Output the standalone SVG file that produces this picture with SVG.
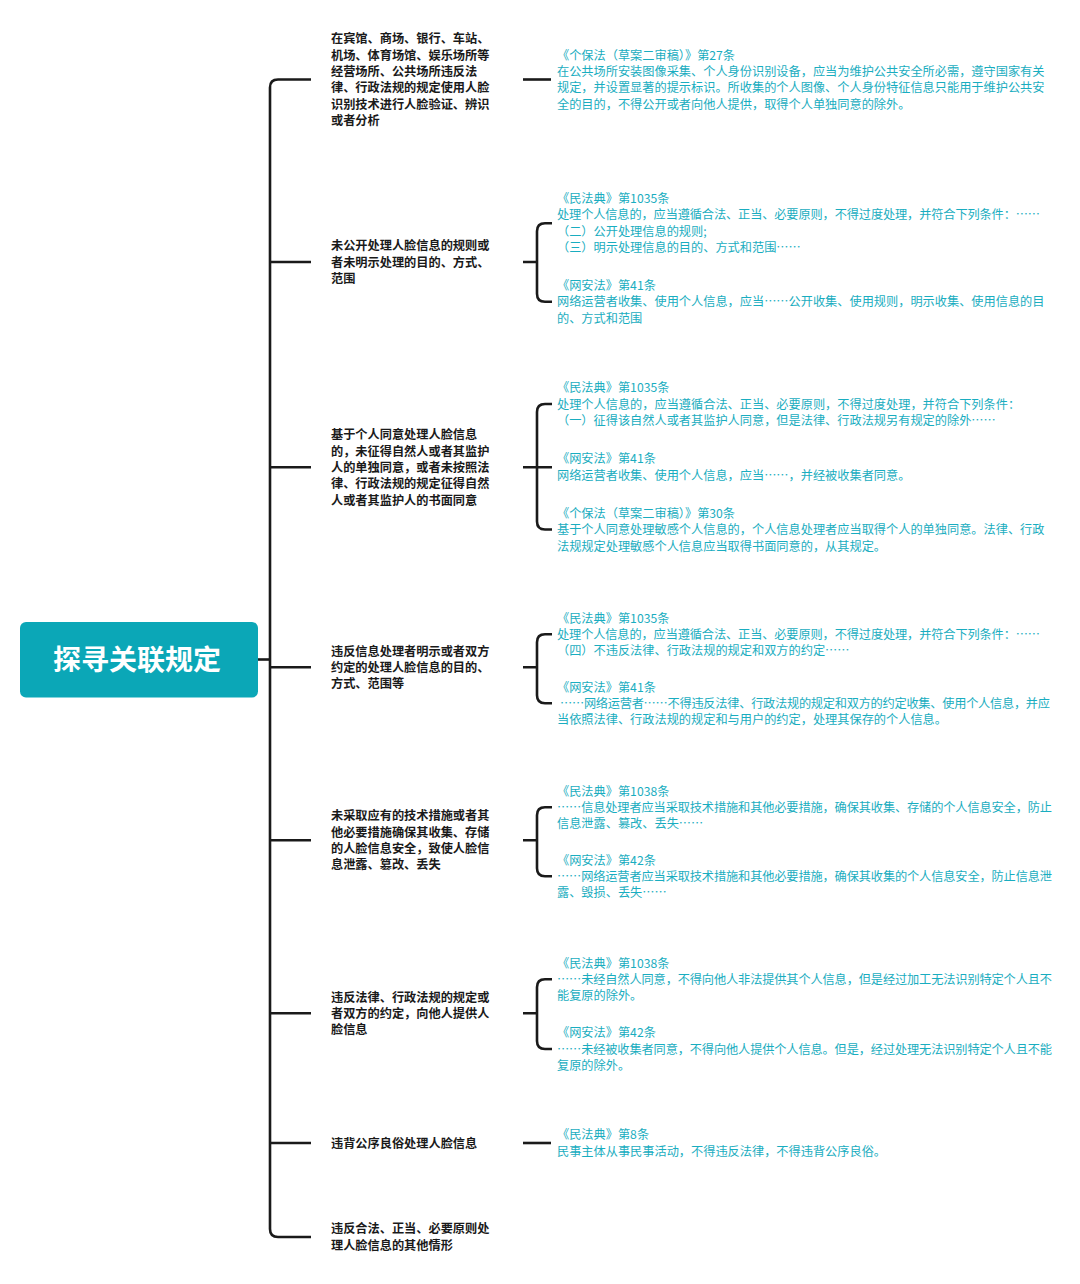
<svg xmlns="http://www.w3.org/2000/svg" width="1080" height="1284" viewBox="0 0 1080 1284">
<style>
.bg{fill:#ffffff}
.root-box{fill:#0ba7b7}
.root-text{font-family:"Noto Sans CJK SC","Noto Sans",sans-serif;font-size:28px;font-weight:700;fill:#ffffff}
.node{font-family:"Noto Sans CJK SC","Noto Sans",sans-serif;font-size:12.2px;font-weight:700;fill:#1a1a1a}
.leaf{font-family:"Noto Sans CJK SC","Noto Sans",sans-serif;font-size:12.2px;font-weight:400;fill:#19adc0}
.conn{fill:none;stroke:#1a1a1a;stroke-width:2.6;stroke-linecap:butt;stroke-linejoin:round}
</style>
<rect class="bg" x="0" y="0" width="1080" height="1284"/>

<g id="connectors">
  <path class="conn" d="M257,659.5 H270"/>
  <path class="conn" d="M311,79.5 H278 Q270,79.5 270,87.5 V1229 Q270,1237 278,1237 H311"/>
  <path class="conn" d="M270,262 H311 M270,467.3 H311 M270,667.3 H311 M270,840.3 H311 M270,1013.3 H311 M270,1143 H311"/>
  <path class="conn" d="M523,79.5 H551"/>
  <path class="conn" d="M523,262 H537 M552,223.3 H545 Q537,223.3 537,231.3 V293.7 Q537,301.7 545,301.7 H552"/>
  <path class="conn" d="M523,467.3 H552 M552,404 H545 Q537,404 537,412 V521.5 Q537,529.5 545,529.5 H552"/>
  <path class="conn" d="M523,667.3 H537 M552,634.3 H545 Q537,634.3 537,642.3 V695.3 Q537,703.3 545,703.3 H552"/>
  <path class="conn" d="M523,840.3 H537 M552,807.3 H545 Q537,807.3 537,815.3 V868.3 Q537,876.3 545,876.3 H552"/>
  <path class="conn" d="M523,1013.3 H537 M552,979.3 H545 Q537,979.3 537,987.3 V1041 Q537,1049 545,1049 H552"/>
  <path class="conn" d="M523,1143 H551"/>
</g>

<g id="root">
  <rect class="root-box" x="20" y="622" width="238" height="75.5" rx="6" ry="6"/>
  <text class="root-text" x="137" y="670" text-anchor="middle">探寻关联规定</text>
</g>

<g id="node1">
  <text class="node" x="331" y="43.4"><tspan x="331">在宾馆、商场、银行、车站、</tspan><tspan x="331" dy="16.3">机场、体育场馆、娱乐场所等</tspan><tspan x="331" dy="16.3">经营场所、公共场所违反法</tspan><tspan x="331" dy="16.3">律、行政法规的规定使用人脸</tspan><tspan x="331" dy="16.3">识别技术进行人脸验证、辨识</tspan><tspan x="331" dy="16.3">或者分析</tspan></text>
</g>
<g id="node2">
  <text class="node" x="331" y="250.3"><tspan x="331">未公开处理人脸信息的规则或</tspan><tspan x="331" dy="16.3">者未明示处理的目的、方式、</tspan><tspan x="331" dy="16.3">范围</tspan></text>
</g>
<g id="node3">
  <text class="node" x="331" y="439.3"><tspan x="331">基于个人同意处理人脸信息</tspan><tspan x="331" dy="16.3">的，未征得自然人或者其监护</tspan><tspan x="331" dy="16.3">人的单独同意，或者未按照法</tspan><tspan x="331" dy="16.3">律、行政法规的规定征得自然</tspan><tspan x="331" dy="16.3">人或者其监护人的书面同意</tspan></text>
</g>
<g id="node4">
  <text class="node" x="331" y="655.6"><tspan x="331">违反信息处理者明示或者双方</tspan><tspan x="331" dy="16.3">约定的处理人脸信息的目的、</tspan><tspan x="331" dy="16.3">方式、范围等</tspan></text>
</g>
<g id="node5">
  <text class="node" x="331" y="820.4"><tspan x="331">未采取应有的技术措施或者其</tspan><tspan x="331" dy="16.3">他必要措施确保其收集、存储</tspan><tspan x="331" dy="16.3">的人脸信息安全，致使人脸信</tspan><tspan x="331" dy="16.3">息泄露、篡改、丢失</tspan></text>
</g>
<g id="node6">
  <text class="node" x="331" y="1001.6"><tspan x="331">违反法律、行政法规的规定或</tspan><tspan x="331" dy="16.3">者双方的约定，向他人提供人</tspan><tspan x="331" dy="16.3">脸信息</tspan></text>
</g>
<g id="node7">
  <text class="node" x="331" y="1147.6">违背公序良俗处理人脸信息</text>
</g>
<g id="node8">
  <text class="node" x="331" y="1233.4"><tspan x="331">违反合法、正当、必要原则处</tspan><tspan x="331" dy="16.3">理人脸信息的其他情形</tspan></text>
</g>

<g id="leaf1">
  <text class="leaf" x="557" y="59.5"><tspan x="557">《个保法（草案二审稿）》第27条</tspan><tspan x="557" dy="16.4">在公共场所安装图像采集、个人身份识别设备，应当为维护公共安全所必需，遵守国家有关</tspan><tspan x="557" dy="16.4">规定，并设置显著的提示标识。所收集的个人图像、个人身份特征信息只能用于维护公共安</tspan><tspan x="557" dy="16.4">全的目的，不得公开或者向他人提供，取得个人单独同意的除外。</tspan></text>
</g>
<g id="leaf2a">
  <text class="leaf" x="557" y="203"><tspan x="557">《民法典》第1035条</tspan><tspan x="557" dy="16.4" textLength="483" lengthAdjust="spacing">处理个人信息的，应当遵循合法、正当、必要原则，不得过度处理，并符合下列条件：……</tspan><tspan x="557" dy="16.4">（二）公开处理信息的规则;</tspan><tspan x="557" dy="16.4">（三）明示处理信息的目的、方式和范围……</tspan></text>
</g>
<g id="leaf2b">
  <text class="leaf" x="557" y="289.9"><tspan x="557">《网安法》第41条</tspan><tspan x="557" dy="16.4">网络运营者收集、使用个人信息，应当……公开收集、使用规则，明示收集、使用信息的目</tspan><tspan x="557" dy="16.4">的、方式和范围</tspan></text>
</g>
<g id="leaf3a">
  <text class="leaf" x="557" y="392.2"><tspan x="557">《民法典》第1035条</tspan><tspan x="557" dy="16.4">处理个人信息的，应当遵循合法、正当、必要原则，不得过度处理，并符合下列条件：</tspan><tspan x="557" dy="16.4">（一）征得该自然人或者其监护人同意，但是法律、行政法规另有规定的除外……</tspan></text>
</g>
<g id="leaf3b">
  <text class="leaf" x="557" y="463.4"><tspan x="557">《网安法》第41条</tspan><tspan x="557" dy="16.4">网络运营者收集、使用个人信息，应当……，并经被收集者同意。</tspan></text>
</g>
<g id="leaf3c">
  <text class="leaf" x="557" y="517.7"><tspan x="557">《个保法（草案二审稿）》第30条</tspan><tspan x="557" dy="16.4">基于个人同意处理敏感个人信息的，个人信息处理者应当取得个人的单独同意。法律、行政</tspan><tspan x="557" dy="16.4">法规规定处理敏感个人信息应当取得书面同意的，从其规定。</tspan></text>
</g>
<g id="leaf4a">
  <text class="leaf" x="557" y="622.5"><tspan x="557">《民法典》第1035条</tspan><tspan x="557" dy="16.4" textLength="483" lengthAdjust="spacing">处理个人信息的，应当遵循合法、正当、必要原则，不得过度处理，并符合下列条件：……</tspan><tspan x="557" dy="16.4">（四）不违反法律、行政法规的规定和双方的约定……</tspan></text>
</g>
<g id="leaf4b">
  <text class="leaf" x="557" y="691.5"><tspan x="557">《网安法》第41条</tspan><tspan x="560" dy="16.4" textLength="490" lengthAdjust="spacing">……网络运营者……不得违反法律、行政法规的规定和双方的约定收集、使用个人信息，并应</tspan><tspan x="557" dy="16.4">当依照法律、行政法规的规定和与用户的约定，处理其保存的个人信息。</tspan></text>
</g>
<g id="leaf5a">
  <text class="leaf" x="557" y="795.5"><tspan x="557">《民法典》第1038条</tspan><tspan x="557" dy="16.4" textLength="495" lengthAdjust="spacing">……信息处理者应当采取技术措施和其他必要措施，确保其收集、存储的个人信息安全，防止</tspan><tspan x="557" dy="16.4">信息泄露、篡改、丢失……</tspan></text>
</g>
<g id="leaf5b">
  <text class="leaf" x="557" y="864.5"><tspan x="557">《网安法》第42条</tspan><tspan x="557" dy="16.4" textLength="495" lengthAdjust="spacing">……网络运营者应当采取技术措施和其他必要措施，确保其收集的个人信息安全，防止信息泄</tspan><tspan x="557" dy="16.4">露、毁损、丢失……</tspan></text>
</g>
<g id="leaf6a">
  <text class="leaf" x="557" y="967.5"><tspan x="557">《民法典》第1038条</tspan><tspan x="557" dy="16.4" textLength="495" lengthAdjust="spacing">……未经自然人同意，不得向他人非法提供其个人信息，但是经过加工无法识别特定个人且不</tspan><tspan x="557" dy="16.4">能复原的除外。</tspan></text>
</g>
<g id="leaf6b">
  <text class="leaf" x="557" y="1037.2"><tspan x="557">《网安法》第42条</tspan><tspan x="557" dy="16.4" textLength="495" lengthAdjust="spacing">……未经被收集者同意，不得向他人提供个人信息。但是，经过处理无法识别特定个人且不能</tspan><tspan x="557" dy="16.4">复原的除外。</tspan></text>
</g>
<g id="leaf7">
  <text class="leaf" x="557" y="1139.4"><tspan x="557">《民法典》第8条</tspan><tspan x="557" dy="16.4">民事主体从事民事活动，不得违反法律，不得违背公序良俗。</tspan></text>
</g>
</svg>
